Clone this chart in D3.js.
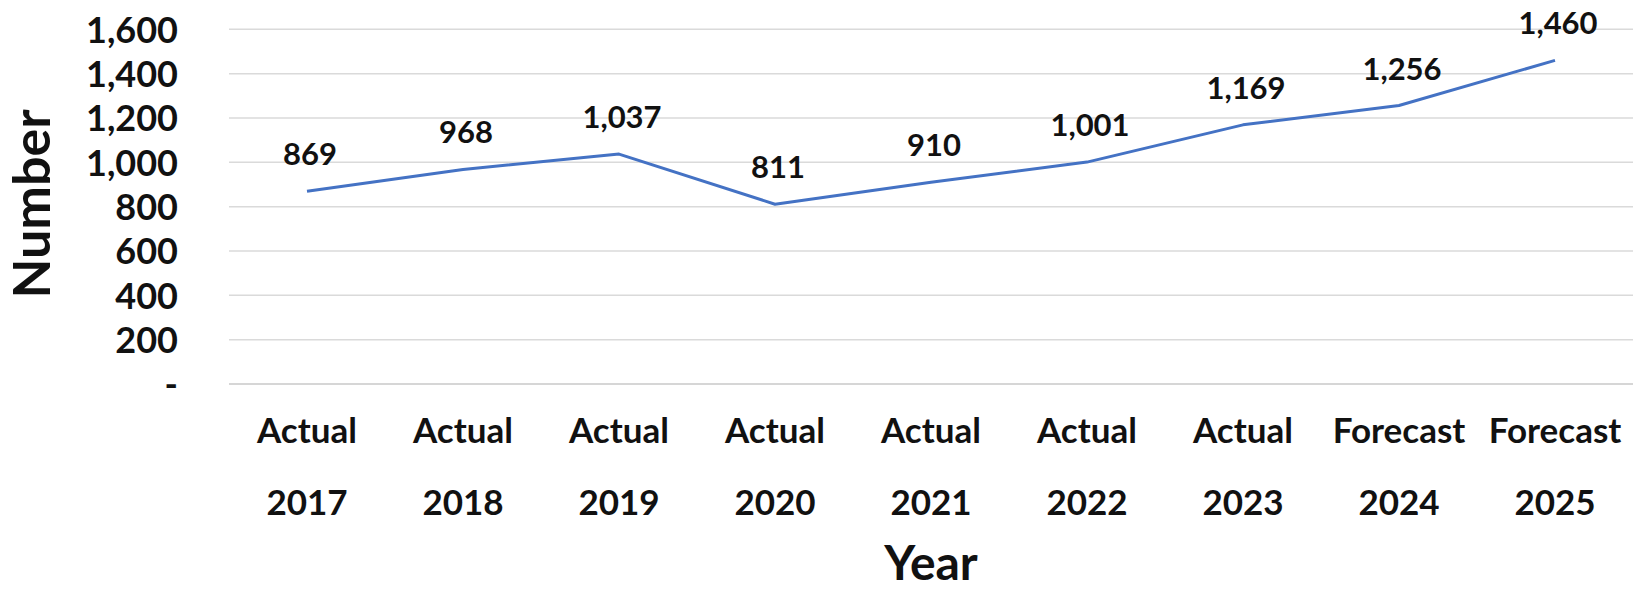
<!DOCTYPE html>
<html>
<head>
<meta charset="utf-8">
<script src="https://cdn.jsdelivr.net/npm/d3@7"></script>
<style>
  html, body { margin: 0; padding: 0; background: #fff; }
  svg { display: block; font-family: Lato, "Open Sans", sans-serif; font-weight: bold; }
</style>
</head>
<body>
<svg id="chart" width="1633" height="592"></svg>
<script>
// Yearly totals: actuals through 2023, forecasts for 2024-2025
const stages = ["Actual", "Actual", "Actual", "Actual", "Actual", "Actual", "Actual", "Forecast", "Forecast"];
const years = ["2017", "2018", "2019", "2020", "2021", "2022", "2023", "2024", "2025"];
const values = [869, 968, 1037, 811, 910, 1001, 1169, 1256, 1460];
const yTicks = [0, 200, 400, 600, 800, 1000, 1200, 1400, 1600];

const svg = d3.select("#chart");
const plot = { left: 229, right: 1633, top: 29.3, bottom: 384 };

const x = d3.scaleBand()
  .domain(years)
  .range([plot.left, plot.right])
  .padding(0);

const y = d3.scaleLinear()
  .domain([0, 1600])
  .range([plot.bottom, plot.top]);

const fmt = d3.format(",");
const tickFmt = v => v === 0 ? "-" : fmt(v);

// Horizontal gridlines
svg.append("g")
  .selectAll("line")
  .data(yTicks)
  .join("line")
  .attr("x1", plot.left)
  .attr("x2", plot.right)
  .attr("y1", d => y(d))
  .attr("y2", d => y(d))
  .attr("stroke", d => d === 0 ? "#c8c8c8" : "#dadada")
  .attr("stroke-width", 1.5);

// Value axis labels
const yAxis = d3.axisLeft(y).tickValues(yTicks).tickFormat(tickFmt).tickSize(0).tickPadding(0);
const gy = svg.append("g")
  .attr("transform", "translate(178,0)")
  .call(yAxis);
gy.select(".domain").remove();
gy.selectAll("text")
  .attr("font-family", "Lato, sans-serif")
  .attr("font-weight", "bold")
  .attr("font-size", 36)
  .attr("fill", "#111")
  .attr("dy", "0.36em");

// Category labels on two lines: stage over year
const gx = svg.append("g");
gx.selectAll("text.stage")
  .data(years)
  .join("text")
  .attr("class", "stage")
  .attr("x", d => x(d) + x.bandwidth() / 2)
  .attr("y", 443)
  .attr("text-anchor", "middle")
  .attr("font-size", 35)
  .attr("fill", "#111")
  .text((d, i) => stages[i]);
gx.selectAll("text.year")
  .data(years)
  .join("text")
  .attr("class", "year")
  .attr("x", d => x(d) + x.bandwidth() / 2)
  .attr("y", 515)
  .attr("text-anchor", "middle")
  .attr("font-size", 35)
  .attr("fill", "#111")
  .text(d => d);

// Series line
const line = d3.line()
  .x((d, i) => x(years[i]) + x.bandwidth() / 2)
  .y(d => y(d));

svg.append("path")
  .datum(values)
  .attr("d", line)
  .attr("fill", "none")
  .attr("stroke", "#4472c4")
  .attr("stroke-width", 3)
  .attr("stroke-linejoin", "round");

// Value labels above each point
svg.append("g")
  .selectAll("text")
  .data(values)
  .join("text")
  .attr("x", (d, i) => x(years[i]) + x.bandwidth() / 2 + 3)
  .attr("y", d => y(d) - 26)
  .attr("text-anchor", "middle")
  .attr("font-size", 31)
  .attr("fill", "#111")
  .text(d => fmt(d));

// Axis titles
svg.append("text")
  .attr("transform", "translate(50,204) rotate(-90)")
  .attr("text-anchor", "middle")
  .attr("font-size", 52)
  .attr("fill", "#111")
  .text("Number");

svg.append("text")
  .attr("x", 931)
  .attr("y", 580)
  .attr("text-anchor", "middle")
  .attr("font-size", 48)
  .attr("fill", "#111")
  .text("Year");
</script>
</body>
</html>
